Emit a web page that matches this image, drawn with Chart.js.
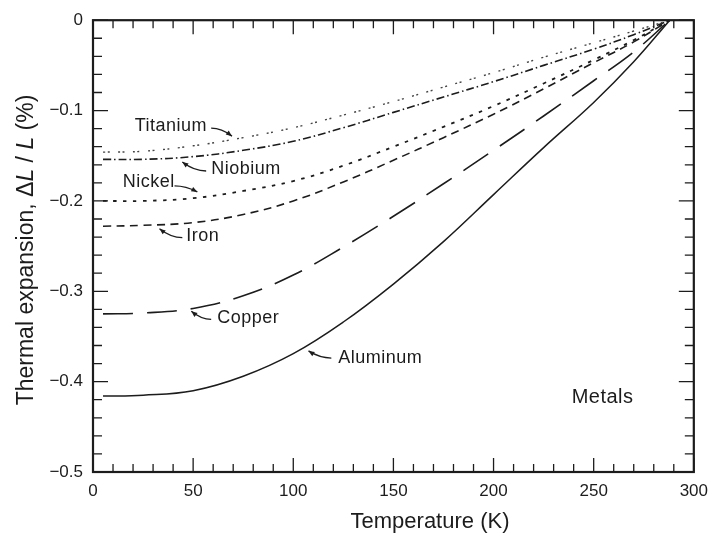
<!DOCTYPE html>
<html>
<head>
<meta charset="utf-8">
<script src="https://cdn.jsdelivr.net/npm/chart.js@4.4.0/dist/chart.umd.min.js"></script>
<style>
  html, body { margin: 0; padding: 0; background: #fff; }
  #wrap { width: 717px; height: 539px; }
</style>
</head>
<body>
<div id="wrap"><canvas id="myChart" width="717" height="539"></canvas></div>
<script>

// data: temperature (K) and dL/L (%)
const temps = [5, 25, 50, 75, 100, 125, 150, 175, 200, 225, 250, 270, 288];

const titanium = [-0.146, -0.145, -0.139, -0.130, -0.119, -0.105, -0.090, -0.074, -0.058, -0.041, -0.025, -0.012, 0];
const niobium  = [-0.154, -0.154, -0.151, -0.144, -0.134, -0.119, -0.102, -0.085, -0.068, -0.050, -0.032, -0.016, 0];
const nickel   = [-0.200, -0.200, -0.197, -0.189, -0.178, -0.161, -0.140, -0.118, -0.095, -0.070, -0.044, -0.022, 0];
const iron     = [-0.228, -0.227, -0.224, -0.215, -0.200, -0.179, -0.155, -0.130, -0.104, -0.076, -0.047, -0.024, 0];
const copper   = [-0.325, -0.324, -0.319, -0.305, -0.282, -0.251, -0.217, -0.181, -0.144, -0.106, -0.067, -0.035, 0];
const aluminum = [-0.416, -0.415, -0.410, -0.394, -0.369, -0.334, -0.292, -0.245, -0.193, -0.141, -0.091, -0.046, 0];

const xTicks = [0, 50, 100, 150, 200, 250, 300];
const yTicks = [0, -0.1, -0.2, -0.3, -0.4, -0.5];

const seriesNames = ["Titanium", "Niobium", "Nickel", "Iron", "Copper", "Aluminum"];

// label text placed in data units, with a little leader arrow (tail -> tip)
const callouts = [
  { text: "Titanium", at: [20.8, -0.1173], tail: [59.0, -0.1195], tip: [69.4, -0.1283] },
  { text: "Niobium",  at: [59.0, -0.1646], tail: [56.5, -0.1669], tip: [44.6, -0.1569] },
  { text: "Nickel",   at: [14.9, -0.1790], tail: [40.7, -0.1834], tip: [52.1, -0.1900] },
  { text: "Iron",     at: [46.6, -0.2384], tail: [44.6, -0.2406], tip: [33.2, -0.2307] },
  { text: "Copper",   at: [62.0, -0.3299], tail: [59.0, -0.3310], tip: [49.1, -0.3220] },
  { text: "Aluminum", at: [122.5, -0.3739], tail: [119.0, -0.3739], tip: [107.6, -0.3660] }
];

const FONT = "'Liberation Sans', Arial, Helvetica, sans-serif";
const INK = "#1c1c1c";

function pts(arr) {
  return temps.map(function(t, i){ return { x: t, y: arr[i] }; });
}

let lineStyles = [
  { dash: [2, 2.5, 2, 8.5], width: 1.4, color: "#444" },
  { dash: [8, 3, 1.5, 3], width: 1.6, color: INK },
  { dash: [3.5, 6.5], width: 1.8, color: INK },
  { dash: [8, 5.5], width: 1.6, color: INK },
  { dash: [30, 14], width: 1.6, color: INK },
  { dash: [], width: 1.5, color: INK }
];

let allSeries = [titanium, niobium, nickel, iron, copper, aluminum];

let datasets = allSeries.map(function(s, i){
  return {
    label: seriesNames[i],
    data: pts(s),
    borderColor: lineStyles[i].color,
    borderWidth: lineStyles[i].width,
    borderDash: lineStyles[i].dash,
    pointRadius: 0,
    fill: false,
    tension: 0.4
  };
});

// inward ticks on all four sides + frame
const frameTicks = {
  id: "frameTicks",
  afterDraw(chart) {
    const ctx = chart.ctx;
    const a = chart.chartArea;
    const xs = chart.scales.x, ys = chart.scales.y;
    ctx.save();
    ctx.strokeStyle = INK;
    ctx.lineWidth = 1.3;
    ctx.beginPath();
    for (let t = 0; t <= 300; t += 10) {
      const px = xs.getPixelForValue(t);
      const len = (t % 50 === 0) ? 14 : 8;
      ctx.moveTo(px, a.bottom); ctx.lineTo(px, a.bottom - len);
      ctx.moveTo(px, a.top); ctx.lineTo(px, a.top + len);
    }
    for (let k = 0; k <= 25; k++) {
      const v = -k * 0.02;
      const py = ys.getPixelForValue(v);
      const len = (k % 5 === 0) ? 15 : 9;
      ctx.moveTo(a.left, py); ctx.lineTo(a.left + len, py);
      ctx.moveTo(a.right, py); ctx.lineTo(a.right - len, py);
    }
    ctx.stroke();
    ctx.lineWidth = 2.2;
    ctx.strokeRect(a.left, a.top, a.right - a.left, a.bottom - a.top);
    ctx.restore();
  }
};

// series labels, "Metals", and the axis titles
const notes = {
  id: "notes",
  afterDraw(chart) {
    const ctx = chart.ctx;
    const xs = chart.scales.x, ys = chart.scales.y;
    const P = function(p){ return [xs.getPixelForValue(p[0]), ys.getPixelForValue(p[1])]; };
    ctx.save();
    ctx.fillStyle = INK;
    ctx.strokeStyle = INK;
    ctx.textBaseline = "middle";
    ctx.textAlign = "left";
    ctx.font = "18px " + FONT;
    try { ctx.letterSpacing = "0.5px"; } catch (e) {}

    callouts.forEach(function(c){
      const at = P(c.at), tl = P(c.tail), tp = P(c.tip);
      ctx.fillText(c.text, at[0], at[1]);
      const cx = (tl[0] + tp[0]) / 2, cy = tl[1];
      ctx.lineWidth = 1.3;
      ctx.beginPath();
      ctx.moveTo(tl[0], tl[1]);
      ctx.quadraticCurveTo(cx, cy, tp[0], tp[1]);
      ctx.stroke();
      // arrow head
      const ang = Math.atan2(tp[1] - cy, tp[0] - cx);
      ctx.beginPath();
      ctx.moveTo(tp[0], tp[1]);
      ctx.lineTo(tp[0] - 6 * Math.cos(ang) + 2.5 * Math.sin(ang), tp[1] - 6 * Math.sin(ang) - 2.5 * Math.cos(ang));
      ctx.lineTo(tp[0] - 6 * Math.cos(ang) - 2.5 * Math.sin(ang), tp[1] - 6 * Math.sin(ang) + 2.5 * Math.cos(ang));
      ctx.closePath();
      ctx.fill();
    });

    ctx.font = "20px " + FONT;
    const m = P([239.0, -0.4179]);
    ctx.fillText("Metals", m[0], m[1]);

    // x title
    try { ctx.letterSpacing = "0px"; } catch (e) {}
    ctx.textAlign = "center";
    ctx.font = "22px " + FONT;
    ctx.fillText("Temperature (K)", 430, 522);

    // y title, with italic L
    const parts = [
      ["Thermal expansion, \u0394", false],
      ["L", true],
      [" / ", false],
      ["L", true],
      [" (%)", false]
    ];
    const fN = "23px " + FONT, fI = "italic 23px " + FONT;
    let total = 0;
    parts.forEach(function(p){ ctx.font = p[1] ? fI : fN; total += ctx.measureText(p[0]).width; });
    ctx.translate(27, 250);
    ctx.rotate(-Math.PI / 2);
    ctx.textAlign = "left";
    let x = -total / 2;
    parts.forEach(function(p){
      ctx.font = p[1] ? fI : fN;
      ctx.fillText(p[0], x, 0);
      x += ctx.measureText(p[0]).width;
    });
    ctx.restore();
  }
};

let myChart1 = document.getElementById("myChart").getContext("2d");

let chart1 = new Chart(myChart1, {
  type: "line",
  data: { datasets: datasets },
  plugins: [frameTicks, notes],
  options: {
    responsive: false,
    animation: false,
    devicePixelRatio: 1,
    layout: { padding: { top: 18, right: 19, left: 0, bottom: 0 } },
    plugins: {
      legend: { display: false },
      tooltip: { enabled: false }
    },
    scales: {
      x: {
        type: "linear",
        min: 0,
        max: 300,
        afterBuildTicks: function(s){ s.ticks = xTicks.map(function(v){ return { value: v }; }); },
        afterFit: function(s){ s.height = 67; },
        grid: { display: false, drawTicks: false },
        border: { display: false },
        ticks: {
          padding: 9,
          maxRotation: 0,
          color: INK,
          font: { size: 17, family: FONT },
          callback: function(v){ return String(v); }
        }
      },
      y: {
        type: "linear",
        min: -0.5,
        max: 0,
        afterBuildTicks: function(s){ s.ticks = yTicks.map(function(v){ return { value: v }; }); },
        afterFit: function(s){ s.width = 93; },
        grid: { display: false, drawTicks: false },
        border: { display: false },
        ticks: {
          padding: 10,
          color: INK,
          font: { size: 17, family: FONT },
          callback: function(v){
            if (Math.abs(v) < 1e-9) return "0";
            return "\u2212" + Math.abs(v).toFixed(1);
          }
        }
      }
    }
  }
});

</script>
</body>
</html>
